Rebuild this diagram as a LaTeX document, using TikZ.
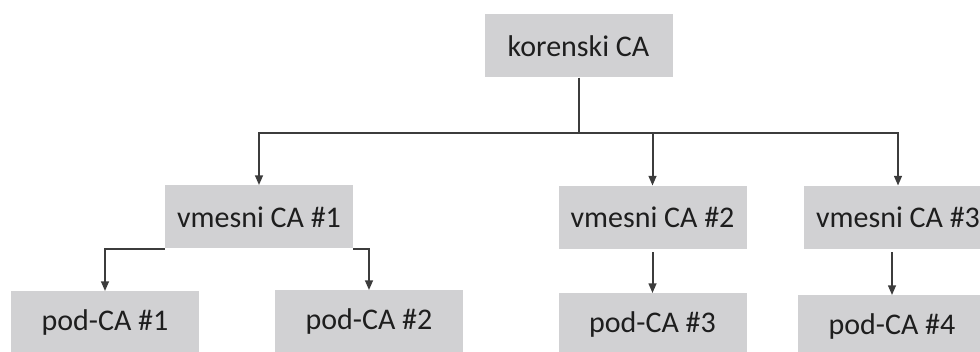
\documentclass[tikz,border=0pt]{standalone}
\usepackage{fontspec}
\setmainfont{Carlito}
\usetikzlibrary{arrows.meta}
\definecolor{boxgray}{RGB}{209,209,211}
\definecolor{linegray}{RGB}{60,60,60}
\definecolor{txtgray}{RGB}{30,30,30}

\begin{document}
\begin{tikzpicture}[x=0.5pt, y=-0.5pt,
    cabox/.style={fill=boxgray, text=txtgray, inner sep=0pt, minimum width=94pt, minimum height=31.5pt, font=\fontsize{15}{18}\selectfont},
    conn/.style={draw=linegray, line width=1pt, -{Triangle[width=3.8pt,length=4.8pt]}}]
              \useasboundingbox (0,0) rectangle (980,352);
              \clip (0,0) rectangle (980,352);
              \node[cabox] (root) at (578.5,46) {korenski CA};
              \node[cabox] (v1) at (259,217) {vmesni CA \#1};
              \node[cabox] (v2) at (652.5,217.5) {vmesni CA \#2};
              \node[cabox] (v3) at (898,217.5) {vmesni CA \#3};
              \node[cabox] (p1) at (105,323) {pod-CA \#1};
              \node[cabox] (p2) at (369,322) {pod-CA \#2};
              \node[cabox] (p3) at (652.5,325) {pod-CA \#3};
              \node[cabox] (p4) at (892,327) {pod-CA \#4};
              \draw[conn] (root.south) -- ++(0,55) -| (v1.north);
              \draw[conn] (root.south) -- ++(0,55) -| (v2.north);
              \draw[conn] (root.south) -- ++(0,55) -| (v3.north);
              \draw[conn] (v1.south west) -| (p1.north);
              \draw[conn] (v1.south east) -| (p2.north);
              \draw[conn] ([yshift=-1.5pt]v2.south) -- (p3.north);
              \draw[conn] ([yshift=-1.5pt]v3.south -| p4.north) -- (p4.north);
          \end{tikzpicture}
\end{document}
